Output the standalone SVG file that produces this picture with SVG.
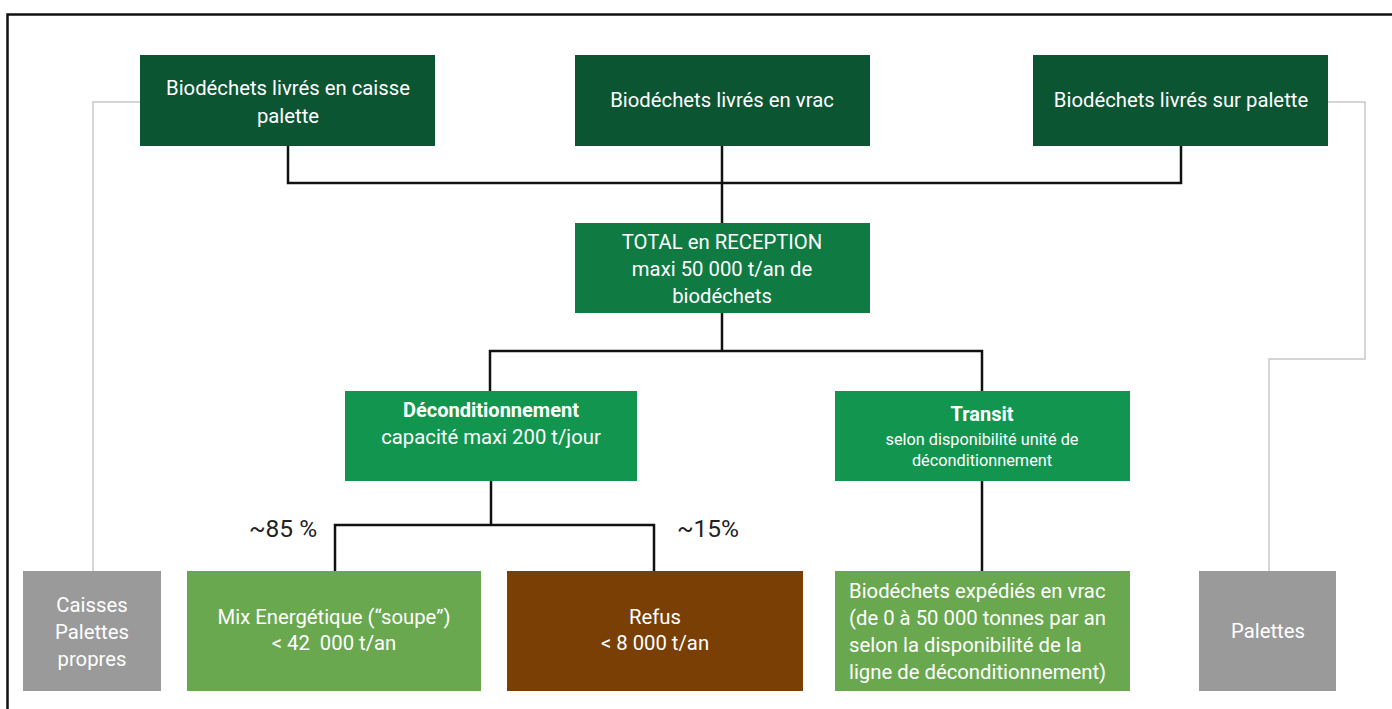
<svg xmlns="http://www.w3.org/2000/svg" width="1392" height="709" viewBox="0 0 1392 709">
<style>
.t{font-family:Roboto,"Liberation Sans",sans-serif;font-size:20.3px;fill:#ffffff;text-anchor:middle}
.b{font-weight:bold;font-size:20px}
.s{font-size:16.3px}
.lbl{font-family:Roboto,"Liberation Sans",sans-serif;font-size:24.5px;fill:#222;text-anchor:middle}
.dk{fill:#0b5533}
.md{fill:#0f7a42}
.gr{fill:#12964f}
.lt{fill:#6aa84f}
.br{fill:#7a3f05}
.gy{fill:#9a9a9a}
.c{fill:none;stroke:#111;stroke-width:2.5}
.g{fill:none;stroke:#c8c8c8;stroke-width:1.5}
</style>
<rect width="1392" height="709" fill="#ffffff"/>
<path d="M7.5,720 V14.5 H1400" fill="none" stroke="#111" stroke-width="2.5"/>
<g id="connectors">
<path class="g" d="M140,102 H93 V571"/>
<path class="g" d="M1328,102 H1365 V359 H1269 V571"/>
<path class="c" d="M288,146 V183 H1181 V146"/>
<path class="c" d="M722,146 V223"/>
<path class="c" d="M722,313 V351"/>
<path class="c" d="M490,391 V351 H982 V391"/>
<path class="c" d="M491,481 V525"/>
<path class="c" d="M335,571 V525 H654 V571"/>
<path class="c" d="M982,481 V571"/>
<text class="lbl" x="283" y="537">~85 %</text>
<text class="lbl" x="708" y="537">~15%</text>
</g>
<g id="caisse">
<rect class="dk" x="140" y="55" width="295" height="91"/>
<text class="t" x="288" y="95">Biodéchets livrés en caisse</text>
<text class="t" x="288" y="123">palette</text>
</g>
<g id="vrac">
<rect class="dk" x="575" y="55" width="295" height="91"/>
<text class="t" x="722" y="107">Biodéchets livrés en vrac</text>
</g>
<g id="surpalette">
<rect class="dk" x="1033" y="55" width="295" height="91"/>
<text class="t" x="1181" y="107">Biodéchets livrés sur palette</text>
</g>
<g id="total">
<rect class="md" x="575" y="223" width="295" height="90"/>
<text class="t" x="722" y="249">TOTAL en RECEPTION</text>
<text class="t" x="722" y="276">maxi 50 000 t/an de</text>
<text class="t" x="722" y="303">biodéchets</text>
</g>
<g id="decond">
<rect class="gr" x="345" y="391" width="292" height="90"/>
<text class="t b" x="491" y="417">Déconditionnement</text>
<text class="t" x="491" y="444">capacité maxi 200 t/jour</text>
</g>
<g id="transit">
<rect class="gr" x="835" y="391" width="295" height="90"/>
<text class="t b" x="982" y="421">Transit</text>
<text class="t s" x="982" y="445">selon disponibilité unité de</text>
<text class="t s" x="982" y="466">déconditionnement</text>
</g>
<g id="caisses">
<rect class="gy" x="23" y="571" width="138" height="120"/>
<text class="t" x="92" y="612">Caisses</text>
<text class="t" x="92" y="639">Palettes</text>
<text class="t" x="92" y="666">propres</text>
</g>
<g id="mix">
<rect class="lt" x="187" y="571" width="294" height="120"/>
<text class="t" x="334" y="624">Mix Energétique (“soupe”)</text>
<text class="t" x="334" y="650" xml:space="preserve">&lt; 42  000 t/an</text>
</g>
<g id="refus">
<rect class="br" x="507" y="571" width="296" height="120"/>
<text class="t" x="655" y="624">Refus</text>
<text class="t" x="655" y="650">&lt; 8 000 t/an</text>
</g>
<g id="expedies">
<rect class="lt" x="835" y="571" width="295" height="120"/>
<text class="t" style="text-anchor:start" x="849" y="598">Biodéchets expédiés en vrac</text>
<text class="t" style="text-anchor:start" x="849" y="625">(de 0 à 50 000 tonnes par an</text>
<text class="t" style="text-anchor:start" x="849" y="652">selon la disponibilité de la</text>
<text class="t" style="text-anchor:start" x="849" y="679">ligne de déconditionnement)</text>
</g>
<g id="palettes">
<rect class="gy" x="1199" y="571" width="137" height="120"/>
<text class="t" x="1268" y="638">Palettes</text>
</g>
</svg>
